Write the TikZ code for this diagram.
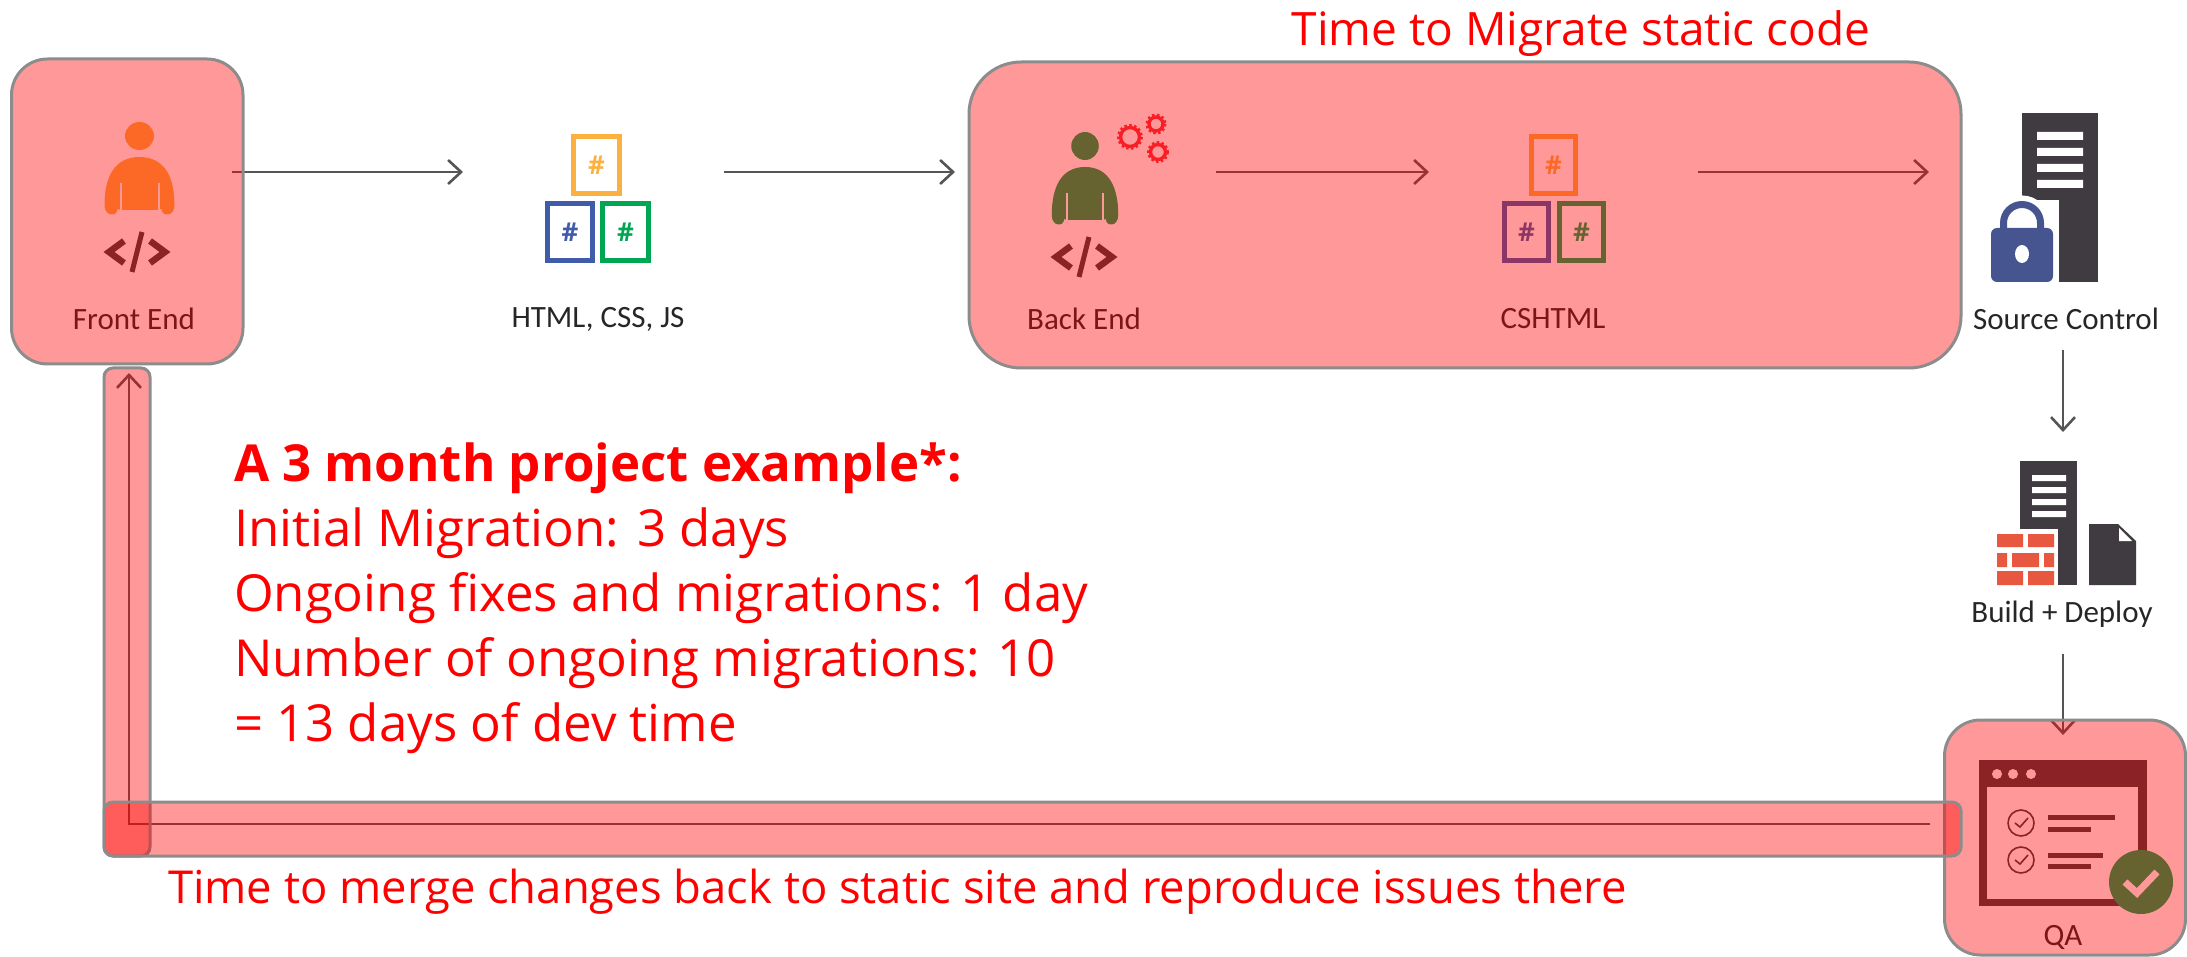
\documentclass[tikz,border=0pt]{standalone}
\usepackage{fontspec}
\setmainfont{Open Sans}
\newfontfamily\lblfont{Carlito}
\usetikzlibrary{arrows.meta,calc}
\definecolor{hOrange}{HTML}{FBB040}
\definecolor{hBlue}{HTML}{3F5BA9}
\definecolor{hGreen}{HTML}{00A651}
\definecolor{hDark}{HTML}{3F3B40}
\definecolor{hBrick}{HTML}{E8573F}
\definecolor{hLine}{HTML}{555555}
\definecolor{hStroke}{HTML}{8C8C8C}
\definecolor{hGear}{HTML}{F5333F}
\definecolor{hLock}{HTML}{46548F}
\pgfdeclarelayer{bg}
\pgfsetlayers{bg,main}
\tikzset{
  hilite/.style={draw=hStroke,line width=3pt,fill=red,fill opacity=.4,draw opacity=1,inner sep=0pt,outer sep=0pt},
  ghost/.style={inner sep=0pt,outer sep=0pt,minimum height=0pt},
  flow/.style={draw=hLine,line width=2.8pt,-{Straight Barb[length=13pt,width=24pt,line width=2.6pt]}},
  redtext/.style={text=red,inner sep=0pt,outer sep=0pt},
  iconlabel/.style={text=black!85,inner sep=0pt,outer sep=0pt,transform shape,font=\lblfont\fontsize{31}{31}\selectfont},
  hashtext/.style={inner sep=0pt,outer sep=0pt,font=\bfseries\fontsize{26}{26}\selectfont}
}
\newcommand\hashbox[6]{%
  \draw[draw=#6,line width=5pt,fill=white] (#2+2.5,#3+2.5) rectangle (#4-2.5,#5-2.5);
  \node[hashtext,text=#6] (#1) at ({(#2+#4)/2},{(#3+#5)/2}) {\#};}
\newcommand\personicon[4]{% cx, top of body, xscale, colour
  \begin{scope}[shift={(#1,#2)},xscale=#3]
    \fill[#4] (0,-21) ellipse (14.5 and 14);
    \fill[#4] (-35,48) .. controls (-35,20) and (-25,0) .. (0,0)
       .. controls (25,0) and (35,20) .. (35,48)
       .. controls (35,60) and (22,60) .. (22,52) -- (19,53) -- (-19,53) -- (-22,52)
       .. controls (-22,60) and (-35,60) .. (-35,48) -- cycle;
    \draw[white,line width=2pt] (-19,26) -- (-19,53) (19,26) -- (19,53);
  \end{scope}}
\newcommand\codeicon[2]{%
  \begin{scope}[shift={(#1,#2)}]
    \draw[hDark,line width=6.5pt,line cap=butt] (-13,-11) -- (-28,0) -- (-13,11) (13,-11) -- (28,0) -- (13,11);
    \draw[hDark,line width=5pt] (5,-20) -- (-5,20);
  \end{scope}}
\newcommand\gearicon[3]{%
  \draw[hGear,line width=3.4pt] (#1,#2) circle (#3);
  \draw[hGear,line width=2.2pt,dash pattern=on 2.5pt off 2.5pt] (#1,#2) circle (#3+2.4);}
\begin{document}
\begin{tikzpicture}[x=1pt,y=-1pt]
\useasboundingbox (0,0) rectangle (2187,957);

% translucent highlight boxes (drawn over everything on the bg layer)
\node[hilite,rounded corners=36pt,minimum width=241pt,minimum height=235pt] (qa) at (2065,837.5) {};
\node[hilite,rounded corners=9pt,minimum width=46pt,minimum height=488pt] (vbar) at (127,612) {};
\node[hilite,rounded corners=9pt,minimum width=1857pt,minimum height=54pt] (hbar) at (1032.5,829) {};
\node[hilite,rounded corners=36pt,minimum width=231.5pt,minimum height=305pt] (front) at (127.25,211.5) {};
\node[hilite,rounded corners=52pt,minimum width=992pt,minimum height=306pt] (back) at (1465,215) {};

% invisible spans that carry the connector ends
\node[ghost,minimum width=261pt] (html) at (593.5,172) {};
\node[ghost,minimum width=261pt] (bend) at (1085.5,172) {};
\node[ghost,minimum width=269pt] (cshtml) at (1563.5,172) {};
\node[ghost,minimum width=268pt,minimum height=356pt] (source) at (2063,172) {};
\node[ghost,minimum width=10pt,minimum height=222pt] (build) at (2063,543) {};
\coordinate (mergeStart) at (1930,824);
\coordinate (mergeCorner) at (129,824);
\coordinate (mergeEnd) at (129,373);

\begin{pgfonlayer}{bg}
  % connectors
  \draw[flow,shorten <=-11pt] (front.east |- html.west) -- (html.west);
  \draw[flow] (html.east) -- (bend.west);
  \draw[flow] (bend.east) -- (cshtml.west);
  \draw[flow] (cshtml.east) -- (source.west);
  \draw[flow] (source.south) -- (build.north);
  \draw[flow] (build.south) -- ([xshift=-2pt,yshift=-15pt]qa.north);
  \draw[flow] (mergeStart) -- (mergeCorner) -- (mergeEnd);

  % front end
  \personicon{139.5}{157}{1}{hOrange}
  \codeicon{137}{252}
  \node[iconlabel,xscale=1] (lfront) at (134,319) {Front End};
  % html css js
  \hashbox{h1}{571}{134}{622}{196}{hOrange}
  \hashbox{h2}{545}{201}{595}{263}{hBlue}
  \hashbox{h3}{600}{201}{651}{263}{hGreen}
  \node[iconlabel] (lhtml) at (598,319) {HTML, CSS, JS};
  % back end
  \personicon{1085}{167}{.95}{hGreen}
  \codeicon{1084}{257}
  \gearicon{1130}{137}{9.5}
  \gearicon{1156}{124}{7}
  \gearicon{1158}{152}{7.5}
  \node[iconlabel] (lback) at (1084,319) {Back End};
  % cshtml
  \hashbox{c1}{1529}{134}{1578}{196}{hOrange}
  \hashbox{c2}{1502}{201}{1551}{263}{hBlue}
  \hashbox{c3}{1557}{201}{1606}{263}{hGreen}
  \node[iconlabel] (lcs) at (1553,319) {CSHTML};

  % QA window
  \fill[hDark] (1979,760) rectangle (2147,906);
  \fill[white] (1987,787) rectangle (2138,899);
  \fill[white] (1997,774) circle (5) (2013,774) circle (5) (2031,774) circle (5);
  \foreach \yy in {823,860}{
    \draw[hDark,line width=1.6pt] (2021,\yy) circle (13);
    \draw[hDark,line width=1.6pt] (2015,\yy) -- (2020,\yy+4) -- (2028,\yy-5);
  }
  \draw[hDark,line width=5pt] (2048,817) -- (2115,817) (2048,829) -- (2091,829)
     (2048,855) -- (2103,855) (2048,866) -- (2091,866);
  \fill[hGreen] (2141,882) circle (32);
  \draw[white,line width=7pt] (2125,882) -- (2137,893) -- (2157,872);
  \node[iconlabel] (lqa) at (2063,937) {QA};
\end{pgfonlayer}

% source control icon
\fill[hDark] (2022,113) rectangle (2098,282);
\fill[white] (2037,132) rectangle (2083,140) (2037,148) rectangle (2083,156)
  (2037,164) rectangle (2083,172) (2037,180) rectangle (2083,188);
\fill[white] (2022,200) rectangle (2059,290);
\draw[white,line width=18pt] (2003.5,240) -- (2003.5,223) arc[start angle=180,end angle=360,x radius=18.5,y radius=18.5] -- (2040.5,240);
\draw[hLock,line width=7pt] (2003.5,240) -- (2003.5,223) arc[start angle=180,end angle=360,x radius=18.5,y radius=18.5] -- (2040.5,240);
\fill[hLock,rounded corners=6pt] (1991,228) rectangle (2053,282);
\fill[white] (2022,254) ellipse (7 and 9);
\node[iconlabel] (lsource) at (2066,319) {Source Control};

% build and deploy icon
\fill[hDark] (2020,461) rectangle (2077,585);
\fill[white] (2032,475) rectangle (2066,481) (2032,487) rectangle (2066,493)
  (2032,499) rectangle (2066,505) (2032,511) rectangle (2066,517);
\fill[white] (1990,529) rectangle (2058,590);
\fill[hBrick] (1997,534) rectangle (2023,547) (2028,534) rectangle (2054,547)
  (1997,553) rectangle (2007,567) (2012,553) rectangle (2039,567) (2044,553) rectangle (2054,567)
  (1997,571) rectangle (2023,585) (2028,571) rectangle (2054,585);
\fill[hDark] (2089,524) -- (2118,524) -- (2136,541) -- (2136,585) -- (2089,585) -- cycle;
\fill[white] (2119,528) -- (2119,541) -- (2132,541) -- cycle;
\node[iconlabel] (lbuild) at (2062,614) {Build + Deploy};

% red annotations
\node[redtext,font=\fontsize{46}{46}\selectfont] (ttop) at (1581,34) {Time to Migrate static code};
\node[redtext,anchor=west,align=left,font=\fontsize{51}{65}\selectfont] (tmid) at (234,598)
  {\textbf{A 3 month project example*:}\\Initial Migration: 3 days\\Ongoing fixes and migrations: 1 day\\Number of ongoing migrations: 10\\= 13 days of dev time};
\node[redtext,font=\fontsize{45.4}{46}\selectfont] (tbot) at (897.5,892) {Time to merge changes back to static site and reproduce issues there};
\end{tikzpicture}
\end{document}
